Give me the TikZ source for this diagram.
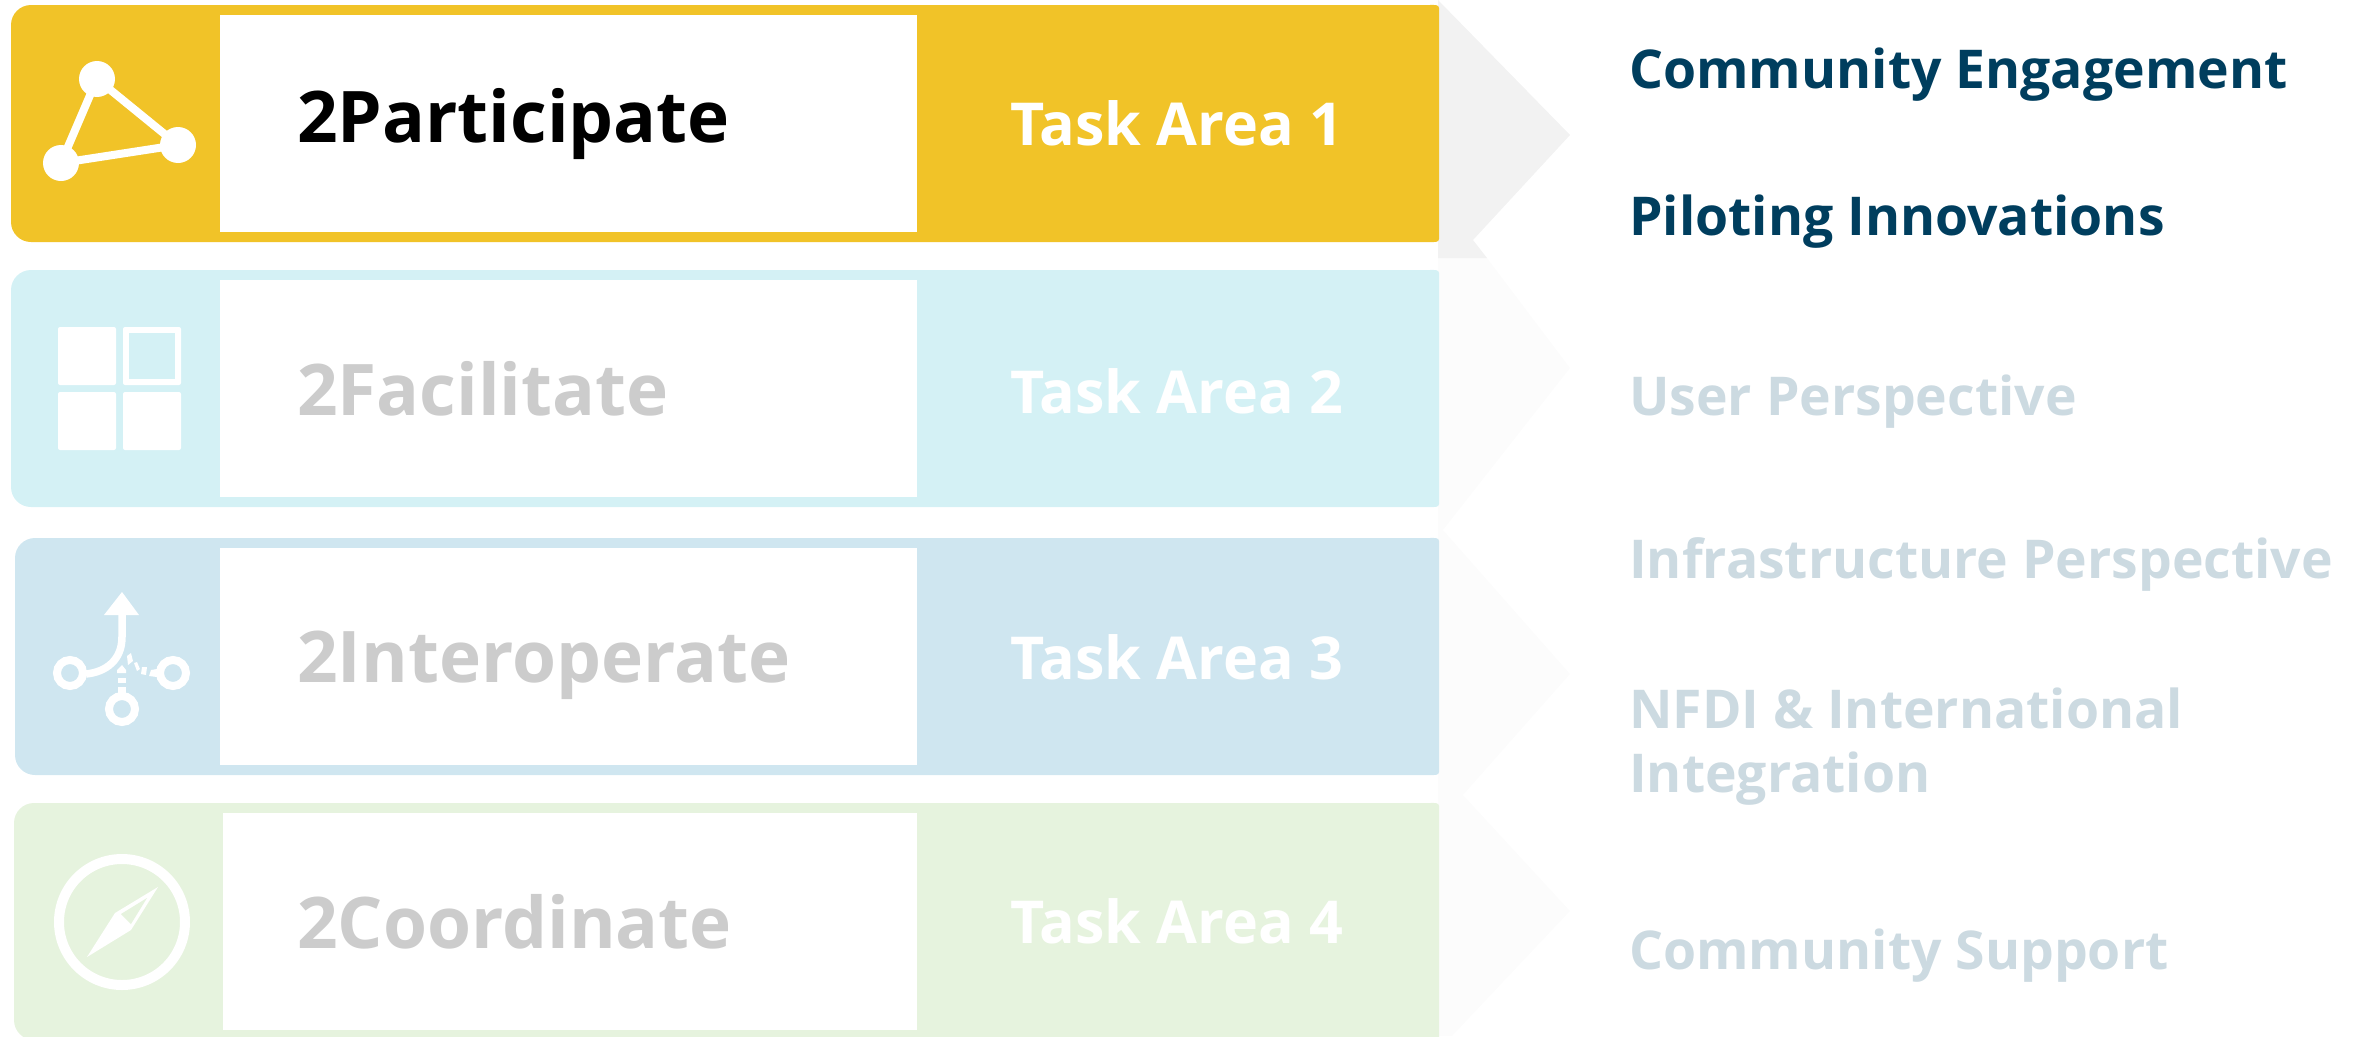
\documentclass[tikz,border=0pt]{standalone}
\usepackage{fontspec}
\setmainfont{Open Sans}
\definecolor{barA}{HTML}{F1C328}
\definecolor{barB}{HTML}{D4F1F5}
\definecolor{barC}{HTML}{CFE6F0}
\definecolor{barD}{HTML}{E6F3DE}
\definecolor{arrA}{HTML}{F2F2F2}
\definecolor{arrB}{HTML}{FCFCFC}
\definecolor{headA}{HTML}{003E5E}
\definecolor{headB}{HTML}{CCDAE1}
\definecolor{nameB}{HTML}{CCCCCC}
\tikzset{
  px/.style={x=1pt,y=-1pt},
  titlelabel/.style={anchor=base west,inner sep=0,font=\fontsize{71.2}{71.2}\selectfont\bfseries},
  arealabel/.style={anchor=base west,inner sep=0,text=white,font=\fontsize{59.2}{59.2}\selectfont\bfseries},
  sidelabel/.style={anchor=base west,inner sep=0,font=\fontsize{53.5}{64}\selectfont\bfseries,align=left},
  whitebox/.style={fill=white,draw=none},
  iconline/.style={draw=white,line width=8pt},
}
\newcommand{\barshape}[5]{% x, top, bottom, colour, white box left
  \fill[#4] (1439,#2+3) -- (1439,#3-3) to[out=-90,in=0] (1430,#3) -- (#1+20,#3) arc[start angle=90,end angle=180,radius=20] -- (#1,#2+20) arc[start angle=180,end angle=270,radius=20] -- (1430,#2) to[out=0,in=90] (1439,#2+3) -- cycle;
  \fill[whitebox] (#5,#2+10) rectangle (917,#3-10);
}
\begin{document}
\begin{tikzpicture}[px]
\useasboundingbox (0,0) rectangle (2358,1036);
% arrows
\fill[arrB] (1438,258) -- (1487,258) -- (1570,368) -- (1443,530) -- (1570,674) -- (1463,795) -- (1570,911) -- (1452,1036) -- (1438,1036) -- cycle;
\fill[arrA] (1438,0) -- (1570,135) -- (1473,240) -- (1487,258) -- (1438,258) -- cycle;
% bars
\barshape{11}{5}{242}{barA}{220}
\barshape{11}{270}{507}{barB}{220}
\barshape{15}{538}{775}{barC}{220}
\barshape{14}{803}{1040}{barD}{223}
% titles
\node[titlelabel,text=black] (t1) at (297,142) {2Participate};
\node[titlelabel,text=nameB] (t2) at (297,415) {2Facilitate};
\node[titlelabel,text=nameB] (t3) at (297,682) {2Interoperate};
\node[titlelabel,text=nameB] (t4) at (297,948) {2Coordinate};
\node[arealabel] (a1) at (1010,145) {Task Area 1};
\node[arealabel] (a2) at (1010,413) {Task Area 2};
\node[arealabel] (a3) at (1010,679) {Task Area 3};
\node[arealabel] (a4) at (1010,943) {Task Area 4};
% side labels
\node[sidelabel,text=headA] (s1) at (1629,88) {Community Engagement};
\node[sidelabel,text=headA] (s2) at (1629,235) {Piloting Innovations};
\node[sidelabel,text=headB] (s3) at (1629,415) {User Perspective};
\node[sidelabel,text=headB] (s4) at (1629,578) {Infrastructure Perspective};
\node[sidelabel,text=headB] (s5) at (1629,728) {NFDI \& International};
\node[sidelabel,text=headB] (s6) at (1629,792) {Integration};
\node[sidelabel,text=headB] (s7) at (1629,969) {Community Support};
% icon 1
\coordinate (n1) at (97,79);
\coordinate (n2) at (61,163);
\coordinate (n3) at (178,145);
\draw[iconline] (n1) -- (n2) -- (n3) -- cycle;
\fill[white] (n1) circle (18) (n2) circle (18) (n3) circle (18);
% icon 2
\fill[white,rounded corners=2] (58,327) rectangle (116,385);
\fill[white,rounded corners=2] (123,327) rectangle (181,385);
\fill[barB] (129,333) rectangle (175,379);
\fill[white,rounded corners=2] (58,392) rectangle (116,450);
\fill[white,rounded corners=2] (123,392) rectangle (181,450);
% icon 3
\draw[white,line width=8pt] (70,673) circle (13);
\draw[white,line width=8pt] (173,673) circle (13);
\draw[white,line width=8pt] (122,709) circle (13);
\draw[white,line width=7.5pt] (86,674) .. controls (106,672) and (122,660) .. (122,637) -- (122,612);
\fill[white] (122,592) -- (139,615) -- (104,615) -- cycle;
\fill[white] (122,665) -- (117,670) -- (117,673) -- (126,673) -- (126,670) -- cycle;
\fill[white] (118,678) rectangle (126,683);
\fill[white] (118,687) rectangle (126,700);
\fill[white] (127,656) -- (131,653) -- (133,661) -- (128,665) -- cycle;
\fill[white] (134,663) -- (137,662) -- (140,669) -- (137,671) -- cycle;
\fill[white] (142,667) -- (147,667) -- (146,675) -- (141,674) -- cycle;
\fill[white] (151,670) -- (157,669) -- (157,677) -- (149,676) -- cycle;
% icon 4
\draw[white,line width=10pt] (122,922) circle (63);
\fill[white] (158,887) -- (115,913) -- (87,957) -- (131,930) -- cycle;
\fill[barD] (147,898) -- (121,914) -- (131,924) -- cycle;
\end{tikzpicture}
\end{document}
